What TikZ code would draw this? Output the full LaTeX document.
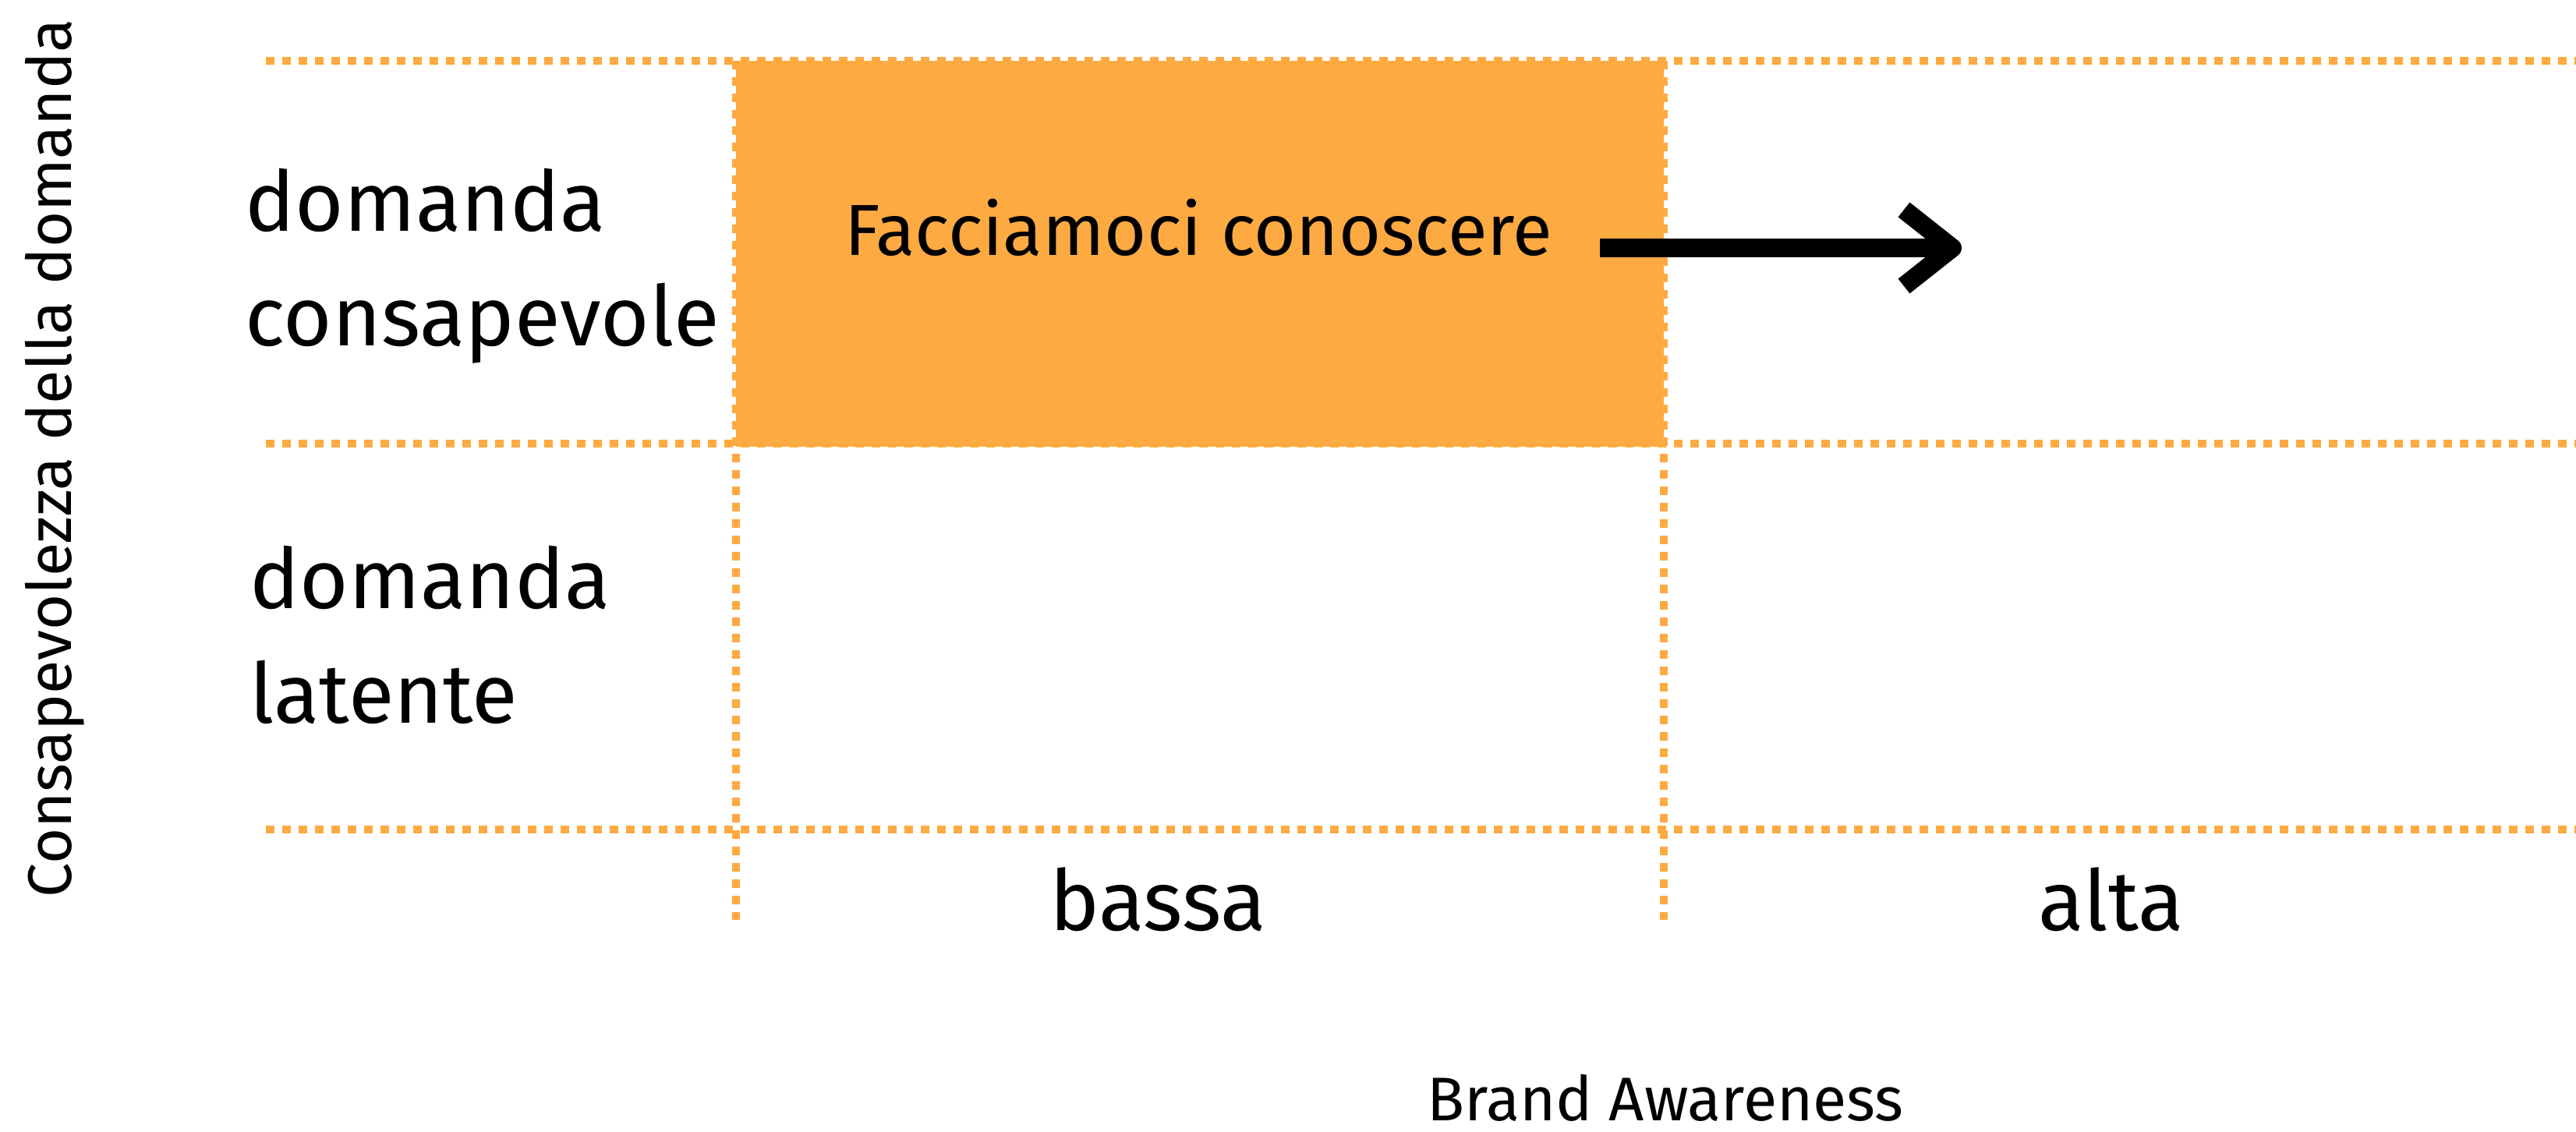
\documentclass[tikz,border=0pt]{standalone}
\usepackage{fontspec}
\setmainfont{Fira Sans}
\usetikzlibrary{arrows.meta}
\definecolor{quadorange}{RGB}{254,170,66}
\tikzset{
  gridline/.style={quadorange, line width=0.1cm, dash pattern=on 0.11cm off 0.10cm},
  rowlabel/.style={font=\fontsize{30.5}{41.8}\selectfont, align=left, anchor=base west, inner sep=0pt},
  collabel/.style={font=\fontsize{30.7}{36}\selectfont, anchor=base, inner sep=0pt},
  axislabel/.style={font=\fontsize{22.5}{27}\selectfont, anchor=base, inner sep=0pt}
}
\begin{document}
\begin{tikzpicture}[>={Straight Barb[length=0.62cm,width=0.98cm,line join=round,line cap=butt]}]
  \useasboundingbox (0,0) rectangle (33.04,-14.51);
  % highlighted cell
  \fill[quadorange] (9.44,-0.78) rectangle (21.34,-5.73);
  % grid
  \draw[gridline] (3.41,-0.78) -- (33.04,-0.78);
  \draw[gridline] (3.41,-5.69) -- (33.04,-5.69);
  \draw[gridline] (3.41,-10.64) -- (33.04,-10.64);
  \draw[gridline] (9.44,-0.78) -- (9.44,-11.80);
  \draw[gridline] (21.34,-0.78) -- (21.34,-11.80);
  % labels
  \node[rowlabel] (consap) at (3.14,-4.43) {domanda\\consapevole};
  \node[rowlabel] (latente) at (3.20,-9.27) {domanda\\latente};
  \node[collabel] (bassa) at (14.85,-11.93) {bassa};
  \node[collabel] (alta) at (27.08,-11.93) {alta};
  \node[axislabel] (brand) at (21.36,-14.37) {Brand Awareness};
  \node[axislabel, rotate=90] (consapevolezza) at (0.91,-5.88) {Consapevolezza della domanda};
  % arrow
  \node[font=\fontsize{26.4}{32}\selectfont, anchor=east, inner sep=0pt, inner xsep=0.6cm,
        text height=1ex, text depth=0pt] (facc) at (20.52,-3.18) {Facciamoci conoscere};
  \coordinate (arrowtip) at (25.16,-3.18);
  \draw[->, line width=0.24cm] (facc.east) -- (arrowtip);
\end{tikzpicture}
\end{document}
